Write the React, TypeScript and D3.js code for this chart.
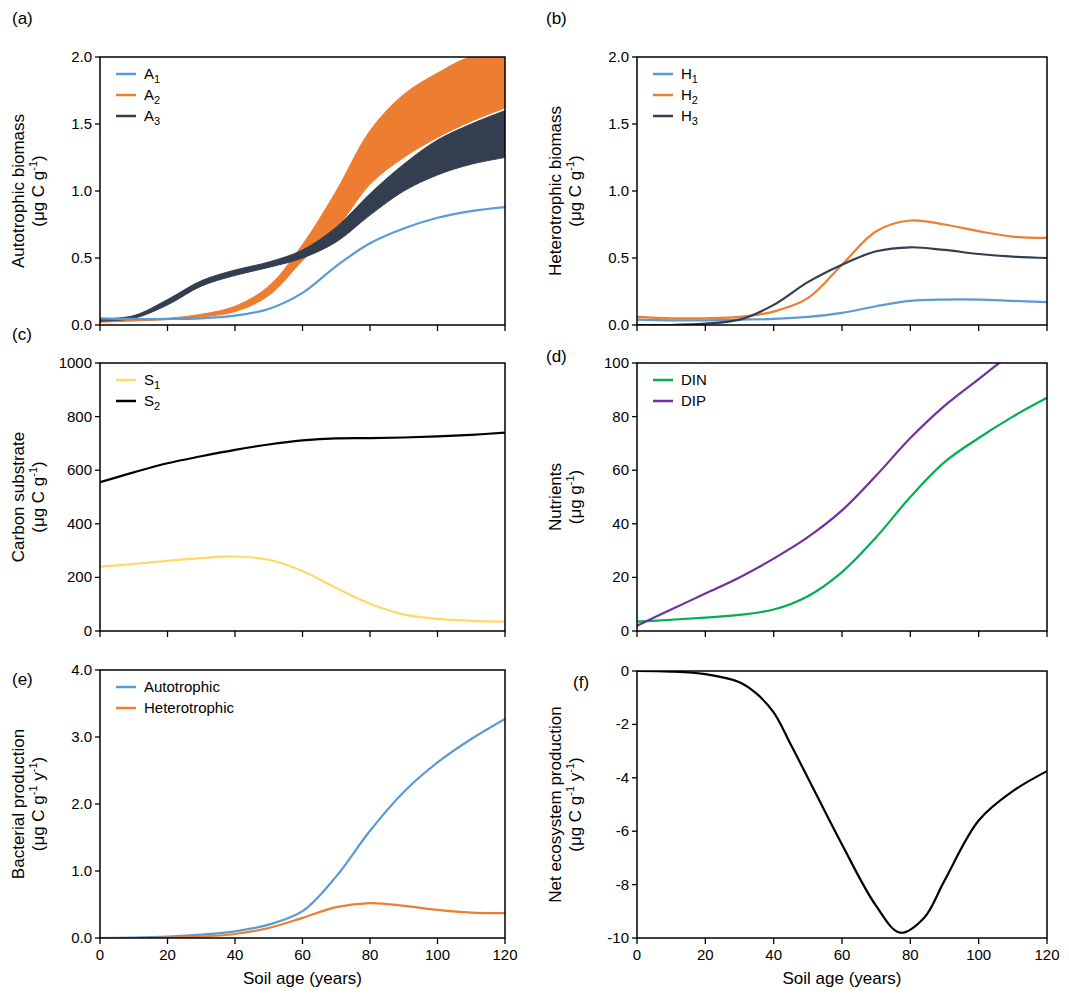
import React from "react";
import * as d3 from "d3";

const years = [0, 10, 20, 30, 40, 50, 60, 70, 80, 90, 100, 110, 120];
const A1 = [0.05, 0.045, 0.045, 0.05, 0.07, 0.12, 0.24, 0.44, 0.61, 0.72, 0.8, 0.85, 0.88];
const A2hi = [0.03, 0.035, 0.05, 0.08, 0.14, 0.29, 0.6, 1.0, 1.45, 1.72, 1.88, 2.0, 2.0];
const A2lo = [0.02, 0.03, 0.04, 0.06, 0.1, 0.22, 0.48, 0.72, 1.05, 1.25, 1.4, 1.52, 1.62];
const A3hi = [0.045, 0.07, 0.19, 0.33, 0.41, 0.47, 0.56, 0.73, 0.98, 1.2, 1.38, 1.5, 1.6];
const A3lo = [0.03, 0.05, 0.15, 0.29, 0.37, 0.43, 0.5, 0.62, 0.82, 1.0, 1.12, 1.2, 1.25];
const H1 = [0.04, 0.035, 0.035, 0.04, 0.045, 0.06, 0.09, 0.14, 0.18, 0.19, 0.19, 0.18, 0.17];
const H2 = [0.06, 0.05, 0.05, 0.06, 0.1, 0.2, 0.45, 0.7, 0.78, 0.75, 0.7, 0.66, 0.65];
const H3 = [0, 0, 0.01, 0.04, 0.15, 0.32, 0.45, 0.55, 0.58, 0.56, 0.53, 0.51, 0.5];
const S1 = [240, 250, 262, 272, 278, 266, 224, 160, 102, 62, 45, 38, 35];
const S2 = [555, 592, 626, 652, 676, 696, 711, 719, 720, 722, 726, 732, 740];
const DIN = [3.5, 4.2, 5, 6, 8, 13, 22, 35, 50, 63, 72, 80, 87];
const DIP = [2, 8, 14, 20, 27, 35, 45, 58, 72, 84, 94, 104, 114];
const PA = [0, 0.005, 0.02, 0.05, 0.1, 0.2, 0.4, 0.92, 1.6, 2.18, 2.62, 2.97, 3.27];
const PH = [0, 0, 0.005, 0.02, 0.06, 0.15, 0.3, 0.46, 0.52, 0.48, 0.42, 0.38, 0.37];
const NEPx = [0, 10, 20, 30, 35, 40, 45, 50, 60, 70, 77, 84, 90, 100, 110, 120];
const NEP = [0, -0.02, -0.12, -0.42, -0.85, -1.55, -2.75, -4.0, -6.5, -8.8, -9.8, -9.25, -7.85, -5.6, -4.5, -3.75];

const BLUE = "#5B9BD5", ORANGE = "#ED7D31", NAVY = "#333F50", YELLOW = "#FFD966", GREEN = "#00B050", PURPLE = "#7030A0";
const FONT = "Liberation Sans, Arial, sans-serif";

type Line = { y: number[]; x?: number[]; color: string };
type Band = { lo: number[]; hi: number[]; color: string };
type Panel = {
  label: string; lx: number; ly: number;
  x0: number; x1: number; y0: number; y1: number;
  domain: [number, number]; ticks: number[]; fmt: (v: number) => string;
  title: [string, React.ReactNode];
  lines: Line[]; bands?: Band[];
  legend?: { name: React.ReactNode; color: string }[];
  xlabels?: boolean;
};

const sub = (b: string, s: string) => (<>{b}<tspan fontSize="11" dy="4">{s}</tspan></>);
const unit = (y: boolean) => (
  <>(μg C g<tspan fontSize="11" dy="-7">-1</tspan><tspan dy="7">{y ? " y" : ")"}</tspan>{y ? <><tspan fontSize="11" dy="-7">-1</tspan><tspan dy="7">)</tspan></> : null}</>
);

const f1 = (v: number) => v.toFixed(1);
const f0 = (v: number) => String(v);

const panels: Panel[] = [
  { label: "(a)", lx: 12, ly: 24, x0: 100, x1: 505, y0: 57, y1: 325, domain: [0, 2], ticks: [0, 0.5, 1, 1.5, 2], fmt: f1,
    title: ["Autotrophic biomass", unit(false)],
    bands: [{ lo: A2lo, hi: A2hi, color: ORANGE }, { lo: A3lo, hi: A3hi, color: NAVY }],
    lines: [{ y: A1, color: BLUE }],
    legend: [{ name: sub("A", "1"), color: BLUE }, { name: sub("A", "2"), color: ORANGE }, { name: sub("A", "3"), color: NAVY }] },
  { label: "(b)", lx: 546, ly: 24, x0: 637, x1: 1047, y0: 57, y1: 325, domain: [0, 2], ticks: [0, 0.5, 1, 1.5, 2], fmt: f1,
    title: ["Heterotrophic biomass", unit(false)],
    lines: [{ y: H1, color: BLUE }, { y: H2, color: ORANGE }, { y: H3, color: NAVY }],
    legend: [{ name: sub("H", "1"), color: BLUE }, { name: sub("H", "2"), color: ORANGE }, { name: sub("H", "3"), color: NAVY }] },
  { label: "(c)", lx: 12, ly: 340, x0: 100, x1: 505, y0: 363, y1: 631, domain: [0, 1000], ticks: [0, 200, 400, 600, 800, 1000], fmt: f0,
    title: ["Carbon substrate", unit(false)],
    lines: [{ y: S1, color: YELLOW }, { y: S2, color: "#000" }],
    legend: [{ name: sub("S", "1"), color: YELLOW }, { name: sub("S", "2"), color: "#000" }] },
  { label: "(d)", lx: 546, ly: 362, x0: 637, x1: 1047, y0: 363, y1: 631, domain: [0, 100], ticks: [0, 20, 40, 60, 80, 100], fmt: f0,
    title: ["Nutrients", <>(μg g<tspan fontSize="11" dy="-7">-1</tspan><tspan dy="7">)</tspan></>],
    lines: [{ y: DIN, color: GREEN }, { y: DIP, color: PURPLE }],
    legend: [{ name: "DIN", color: GREEN }, { name: "DIP", color: PURPLE }] },
  { label: "(e)", lx: 12, ly: 685, x0: 100, x1: 505, y0: 670, y1: 938, domain: [0, 4], ticks: [0, 1, 2, 3, 4], fmt: f1,
    title: ["Bacterial production", unit(true)], xlabels: true,
    lines: [{ y: PA, color: BLUE }, { y: PH, color: ORANGE }],
    legend: [{ name: "Autotrophic", color: BLUE }, { name: "Heterotrophic", color: ORANGE }] },
  { label: "(f)", lx: 573, ly: 688, x0: 637, x1: 1047, y0: 671, y1: 938, domain: [-10, 0], ticks: [-10, -8, -6, -4, -2, 0], fmt: f0,
    title: ["Net ecosystem production", unit(true)], xlabels: true,
    lines: [{ x: NEPx, y: NEP, color: "#000" }] },
];

const CURVE = d3.curveCatmullRom.alpha(0.5);

function PanelView({ p, i }: { p: Panel; i: number }) {
  const x = d3.scaleLinear().domain([0, 120]).range([p.x0, p.x1]);
  const y = d3.scaleLinear().domain(p.domain).range([p.y1, p.y0]);
  const line = (xs: number[], ys: number[]) =>
    d3.line<number>().x((_, k) => x(xs[k])).y((v) => y(v)).curve(CURVE)(ys) || "";
  const area = (b: Band) =>
    d3.area<number>().x((_, k) => x(years[k])).y0((_, k) => y(b.lo[k])).y1((v) => y(v)).curve(CURVE)(b.hi) || "";
  const cid = `clip${i}`;
  const tx = p.x0 - 70;
  const ty = (p.y0 + p.y1) / 2;
  return (
    <g fontFamily={FONT}>
      <defs><clipPath id={cid}><rect x={p.x0} y={p.y0} width={p.x1 - p.x0} height={p.y1 - p.y0} /></clipPath></defs>
      <text x={p.lx} y={p.ly} fontSize="17">{p.label}</text>
      <g clipPath={`url(#${cid})`}>
        {(p.bands || []).map((b, k) => (
          <g key={k}>
            <path d={area(b)} fill={b.color} />
            <path d={area(b)} fill="none" stroke={b.color} strokeWidth={1} />
          </g>
        ))}
        {p.lines.map((l, k) => (
          <path key={k} d={line(l.x || years, l.y)} fill="none" stroke={l.color} strokeWidth={2.2} />
        ))}
      </g>
      <rect x={p.x0} y={p.y0} width={p.x1 - p.x0} height={p.y1 - p.y0} fill="none" stroke="#000" strokeWidth={1.5} />
      {p.ticks.map((t) => (
        <g key={t}>
          <line x1={p.x0 - 5} x2={p.x0} y1={y(t)} y2={y(t)} stroke="#000" strokeWidth={1.3} />
          <text x={p.x0 - 8} y={y(t) + 5} fontSize="15" textAnchor="end">{p.fmt(t)}</text>
        </g>
      ))}
      {d3.range(0, 121, 20).map((t) => (
        <g key={t}>
          <line x1={x(t)} x2={x(t)} y1={p.y1} y2={p.y1 + 6} stroke="#000" strokeWidth={1.3} />
          {p.xlabels && <text x={x(t)} y={p.y1 + 22} fontSize="15" textAnchor="middle">{t}</text>}
        </g>
      ))}
      {p.xlabels && <text x={(p.x0 + p.x1) / 2} y={p.y1 + 46} fontSize="17" textAnchor="middle">Soil age (years)</text>}
      <g transform={`translate(${tx},${ty}) rotate(-90)`}>
        <text x={0} y={-6} fontSize="17" textAnchor="middle">{p.title[0]}</text>
        <text x={0} y={14} fontSize="17" textAnchor="middle">{p.title[1]}</text>
      </g>
      {(p.legend || []).map((l, k) => (
        <g key={k}>
          <line x1={p.x0 + 16} x2={p.x0 + 36} y1={p.y0 + 17 + k * 21} y2={p.y0 + 17 + k * 21} stroke={l.color} strokeWidth={2.5} />
          <text x={p.x0 + 44} y={p.y0 + 22 + k * 21} fontSize="15">{l.name}</text>
        </g>
      ))}
    </g>
  );
}

export default function App() {
  return (
    <svg width={1069} height={994} style={{ position: "absolute", left: 0, top: 0, background: "#fff" }}>
      <rect width={1069} height={994} fill="#fff" />
      {panels.map((p, i) => <PanelView key={i} p={p} i={i} />)}
    </svg>
  );
}
